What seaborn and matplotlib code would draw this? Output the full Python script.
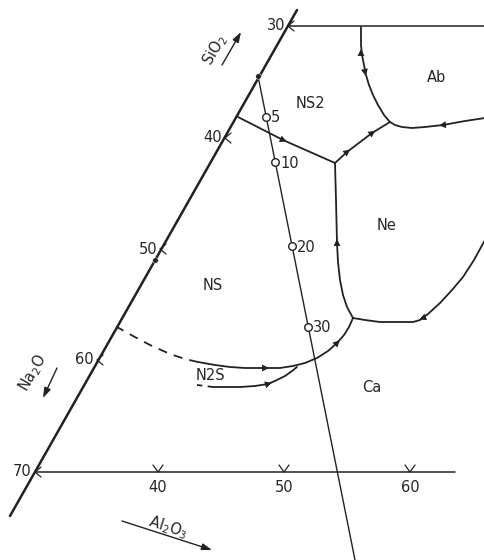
import numpy as np
import seaborn as sns
import matplotlib.pyplot as plt

# everything is in picture units (x right, y down)

# Na2O-SiO2 side, tick values and where they sit
edge_x = [10, 297]
edge_y = [516, 10]
edge_vals = [70, 60, 50, 40, 30]
edge_tick_x = [35, 97, 160, 225, 288]
edge_tick_y = [472, 360, 249, 138, 26]

# top line (30% SiO2 side) and base line with the Al2O3 ticks
top_x = [288, 485]
top_y = [26, 26]
base_x = [35, 455]
base_y = [472, 472]
base_vals = [40, 50, 60]
base_tick_x = [158, 284, 410]

# field boundaries
ns_ns2_x = [238, 283, 335]
ns_ns2_y = [117, 140, 163]
j1_j2_x = [335, 347, 372, 390]
j1_j2_y = [163, 152, 133, 122]
ns2_ab_x = [390, 384, 378, 373, 369, 366, 364, 362, 361, 361]
ns2_ab_y = [122, 115, 105, 95, 85, 75, 65, 55, 45, 27]
ab_ne_x = [390, 395, 402, 412, 425, 443, 465, 485]
ab_ne_y = [122, 125, 127, 128, 127, 125, 121, 118]
ns_ne_x = [335, 336, 337, 338, 340, 343, 347, 353]
ns_ne_y = [163, 200, 243, 262, 280, 295, 307, 318]
ne_ca_x = [353, 365, 380, 400, 413, 420, 428, 440, 452, 463, 474, 485]
ne_ca_y = [318, 320, 322, 322, 322, 320, 314, 303, 290, 277, 260, 240]
ns_ca_x = [353, 349, 344, 337, 328, 317, 305, 293, 280, 265, 245, 230, 215, 198]
ns_ca_y = [318, 327, 335, 343, 351, 358, 363, 366, 368, 368, 368, 367, 365, 362]
ns_n2s_x = [198, 185, 170, 150, 133, 117]
ns_n2s_y = [362, 359, 354, 345, 336, 327]
n2s_ca_x = [297, 292, 285, 277, 268, 255, 240, 225, 213]
n2s_ca_y = [367, 371, 376, 380, 384, 386, 387, 387, 387]
n2s_tail_x = [213, 197]
n2s_tail_y = [387, 385]

# crystallisation path line with the marked points
path_x = [258, 355]
path_y = [76, 560]
path_pts_x = [266, 275, 292, 308]
path_pts_y = [117, 162, 246, 327]
path_labels = ['5', '10', '20', '30']

dots_x = [258, 155]
dots_y = [76, 260]

# arrows on the boundaries: position and heading
arr_x = [283, 347, 372, 361, 365, 443, 337, 423, 337, 265, 268]
arr_y = [140, 152, 133, 53, 72, 125, 243, 318, 343, 368, 384]
arr_dx = [1, 1, 1, 0, 0.2, -1, 0, -1, 1, 1, 1]
arr_dy = [0.45, -0.75, -0.7, -1, 1, 0.1, -1, 0.4, -1, 0, -0.3]

fields = ['NS2', 'Ab', 'Ne', 'NS', 'N2S', 'Ca']
fields_x = [310, 437, 387, 213, 210, 372]
fields_y = [103, 77, 225, 285, 376, 387]

sns.set_style('white')
plt.rcParams['font.family'] = ['DejaVu Sans']
fs = 10.5

fig = plt.figure(figsize=(4.85, 5.6), dpi=100)
ax = fig.add_axes([0, 0, 1, 1])
ink = '#222222'


def line(xs, ys, lw=1.2, ls='-'):
    sns.lineplot(x=xs, y=ys, sort=False, estimator=None, color=ink,
                 lw=lw, ls=ls, ax=ax)


line(edge_x, edge_y, lw=1.8)
line(top_x, top_y, lw=1.1)
line(base_x, base_y, lw=1.1)

for xs, ys in [(ns_ns2_x, ns_ns2_y), (j1_j2_x, j1_j2_y), (ns2_ab_x, ns2_ab_y),
               (ab_ne_x, ab_ne_y), (ns_ne_x, ns_ne_y), (ne_ca_x, ne_ca_y),
               (ns_ca_x, ns_ca_y), (n2s_ca_x, n2s_ca_y)]:
    line(xs, ys, lw=1.3)
line(ns_n2s_x, ns_n2s_y, lw=1.3, ls=(0, (5, 4)))
line(n2s_tail_x, n2s_tail_y, lw=1.3, ls=(0, (3, 3)))
line(path_x, path_y, lw=1.0)

# tick marks and labels on the slanted side
for v, tx, ty in zip(edge_vals, edge_tick_x, edge_tick_y):
    ax.plot([tx + 6, tx, tx + 6], [ty - 5, ty, ty + 5], color=ink, lw=0.9)
    ax.text(tx - 3, ty, str(v), ha='right', va='center', fontsize=fs)

for v, tx in zip(base_vals, base_tick_x):
    ax.plot([tx - 5, tx, tx + 5], [base_y[0] - 7, base_y[0], base_y[0] - 7],
            color=ink, lw=0.9)
    ax.text(tx, base_y[0] + 16, str(v), ha='center', va='center', fontsize=fs)

sns.scatterplot(x=path_pts_x, y=path_pts_y, s=30, facecolor='white',
                edgecolor=ink, linewidth=1.0, zorder=5, ax=ax)
for px, py, lab in zip(path_pts_x, path_pts_y, path_labels):
    ax.text(px + 5, py + 1, lab, ha='left', va='center', fontsize=fs)

sns.scatterplot(x=dots_x, y=dots_y, s=16, color=ink, zorder=5, ax=ax)

for x, y, dx, dy in zip(arr_x, arr_y, arr_dx, arr_dy):
    n = np.hypot(dx, dy)
    ax.annotate('', xy=(x + 4 * dx / n, y + 4 * dy / n),
                xytext=(x - 4 * dx / n, y - 4 * dy / n),
                arrowprops=dict(arrowstyle='-|>,head_length=0.5,head_width=0.25',
                                mutation_scale=10, lw=0, color=ink,
                                shrinkA=0, shrinkB=0))

for lab, fx, fy in zip(fields, fields_x, fields_y):
    ax.text(fx, fy, lab, ha='center', va='center', fontsize=fs)

# component labels with their arrows
axis_arrow = dict(arrowstyle='-|>,head_length=0.6,head_width=0.2',
                  mutation_scale=10, lw=1.0, color=ink, shrinkA=0, shrinkB=0)
ax.text(215, 50, r'SiO$_2$', rotation=60, ha='center', va='center', fontsize=fs)
ax.annotate('', xy=(241, 32), xytext=(222, 65), arrowprops=axis_arrow)
ax.text(33, 373, r'Na$_2$O', rotation=60, ha='center', va='center', fontsize=fs)
ax.annotate('', xy=(43, 398), xytext=(57, 368), arrowprops=axis_arrow)
ax.text(168, 527, r'Al$_2$O$_3$', rotation=-18, ha='center', va='center', fontsize=fs)
ax.annotate('', xy=(212, 550), xytext=(122, 521), arrowprops=axis_arrow)

ax.set_xlim(0, 485)
ax.set_ylim(560, 0)
ax.axis('off')

fig.savefig('out.png', dpi=100)
